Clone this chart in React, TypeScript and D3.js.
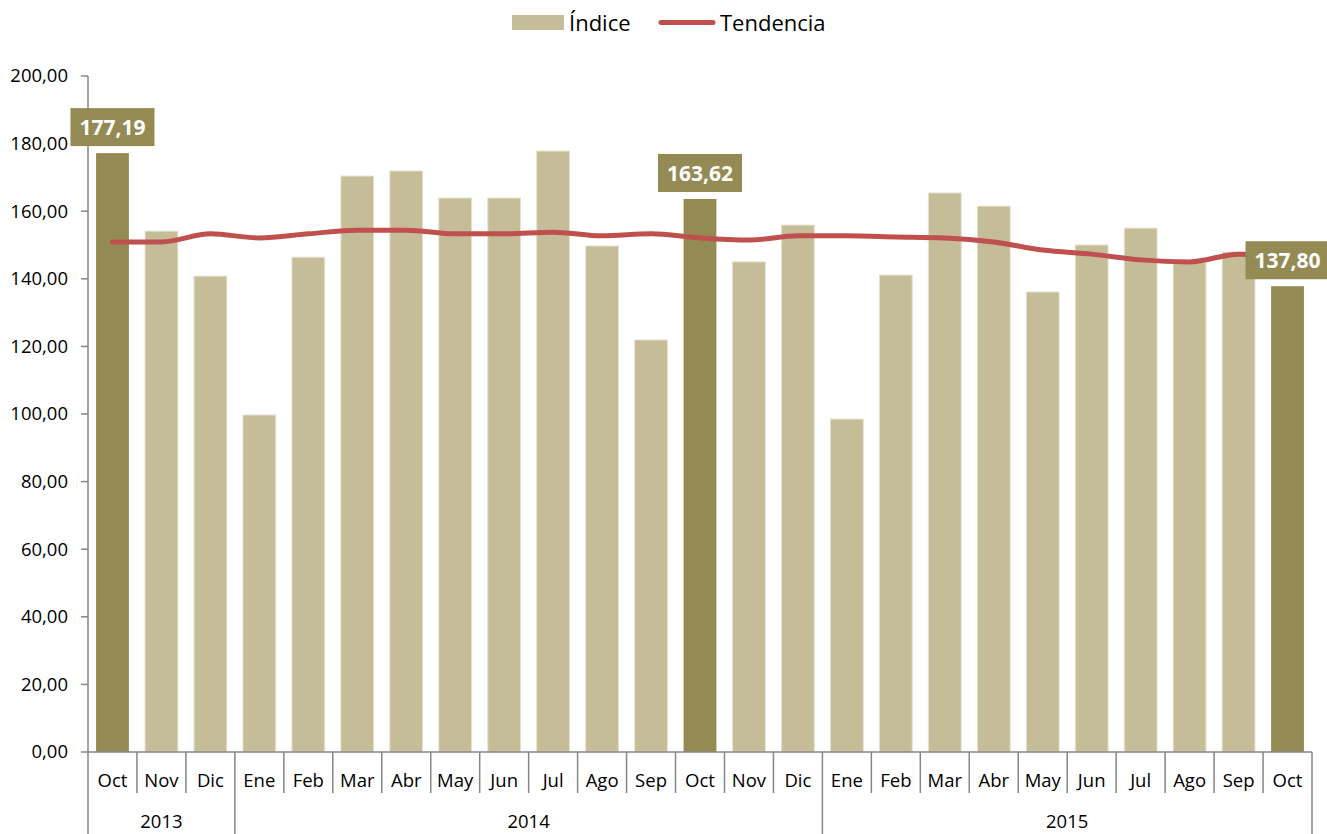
import React, { useRef, useEffect } from 'react';
import * as d3 from 'd3';

const months = ['Oct', 'Nov', 'Dic', 'Ene', 'Feb', 'Mar', 'Abr', 'May', 'Jun', 'Jul', 'Ago', 'Sep', 'Oct',
    'Nov', 'Dic', 'Ene', 'Feb', 'Mar', 'Abr', 'May', 'Jun', 'Jul', 'Ago', 'Sep', 'Oct'];

const indice = [177.19, 154.1, 140.8, 99.7, 146.4, 170.4, 171.9, 163.9, 163.9, 177.8, 149.7, 121.9, 163.62,
    145.0, 155.9, 98.5, 141.1, 165.4, 161.5, 136.1, 150.0, 155.0, 144.7, 147.9, 137.80];

const tendencia = [150.9, 150.9, 153.3, 152.1, 153.3, 154.4, 154.4, 153.3, 153.3, 153.8, 152.7, 153.3, 152.1,
    151.5, 152.7, 152.7, 152.4, 152.1, 150.9, 148.5, 147.3, 145.6, 145.0, 147.3, 147.0];

// year groups: label, first index, count
const years = [
    { label: '2013', start: 0, count: 3 },
    { label: '2014', start: 3, count: 12 },
    { label: '2015', start: 15, count: 10 },
];

const highlighted = [0, 12, 24];

const yTicks = [0, 20, 40, 60, 80, 100, 120, 140, 160, 180, 200];

const fmt = (v: number) => v.toFixed(2).replace('.', ',');

const App = () => {
    const svgRef = useRef<SVGSVGElement>(null);

    useEffect(() => {
        drawChart();
    }, []);

    const drawChart = () => {
        const svg = d3.select(svgRef.current);
        svg.selectAll('*').remove();

        const left = 88, right = 1312, top = 76, bottom = 752;
        const font = '"Open Sans", sans-serif';
        const axisColor = '#868686';

        const idx = months.map((_, i) => i);
        const x = d3.scaleBand<number>()
            .domain(idx)
            .range([left, right])
            .paddingInner(0.33)
            .paddingOuter(0.165);
        const step = (right - left) / months.length;

        const y = d3.scaleLinear().domain([0, 200]).range([bottom, top]);

        // bars
        svg.append('g')
            .selectAll('rect')
            .data(indice)
            .enter().append('rect')
            .attr('x', (d, i) => x(i)!)
            .attr('width', x.bandwidth())
            .attr('y', d => y(d))
            .attr('height', d => bottom - y(d))
            .attr('fill', (d, i) => highlighted.includes(i) ? '#948A54' : '#C4BD97')
            .attr('stroke', (d, i) => highlighted.includes(i) ? 'none' : '#E6E2D0')
            .attr('stroke-width', 1);

        // trend line
        const line = d3.line<number>()
            .x((d, i) => x(i)! + x.bandwidth() / 2)
            .y(d => y(d))
            .curve(d3.curveMonotoneX);

        svg.append('path')
            .datum(tendencia)
            .attr('d', line)
            .attr('fill', 'none')
            .attr('stroke', '#C0504D')
            .attr('stroke-width', 5)
            .attr('stroke-linecap', 'round');

        // y axis
        svg.append('line')
            .attr('x1', left).attr('x2', left)
            .attr('y1', top).attr('y2', bottom)
            .attr('stroke', axisColor).attr('stroke-width', 1.5);

        const yt = svg.append('g');
        yt.selectAll('line')
            .data(yTicks)
            .enter().append('line')
            .attr('x1', left - 7).attr('x2', left)
            .attr('y1', d => y(d)).attr('y2', d => y(d))
            .attr('stroke', axisColor).attr('stroke-width', 1.5);
        yt.selectAll('text')
            .data(yTicks)
            .enter().append('text')
            .attr('x', 68)
            .attr('y', d => y(d))
            .attr('dy', '0.35em')
            .attr('text-anchor', 'end')
            .style('font-family', font)
            .style('font-size', '18.5px')
            .attr('fill', '#000')
            .text(d => fmt(d));

        // x axis
        svg.append('line')
            .attr('x1', left).attr('x2', right)
            .attr('y1', bottom).attr('y2', bottom)
            .attr('stroke', axisColor).attr('stroke-width', 1.5);

        const yearEdges = years.map(g => g.start).concat([months.length]);
        const sep = d3.range(months.length + 1);
        svg.append('g')
            .selectAll('line')
            .data(sep)
            .enter().append('line')
            .attr('x1', i => left + i * step).attr('x2', i => left + i * step)
            .attr('y1', bottom)
            .attr('y2', i => yearEdges.includes(i) ? 834 : 793)
            .attr('stroke', axisColor).attr('stroke-width', 1.5);

        svg.append('g')
            .selectAll('text')
            .data(months)
            .enter().append('text')
            .attr('x', (d, i) => left + (i + 0.5) * step)
            .attr('y', 781)
            .attr('dy', '0.35em')
            .attr('text-anchor', 'middle')
            .style('font-family', font)
            .style('font-size', '18.5px')
            .text(d => d);

        svg.append('g')
            .selectAll('text')
            .data(years)
            .enter().append('text')
            .attr('x', d => left + (d.start + d.count / 2) * step)
            .attr('y', 822)
            .attr('dy', '0.35em')
            .attr('text-anchor', 'middle')
            .style('font-family', font)
            .style('font-size', '18.5px')
            .text(d => d.label);

        // data labels
        const lab = svg.append('g')
            .selectAll('g')
            .data(highlighted)
            .enter().append('g');
        lab.append('rect')
            .attr('x', i => x(i)! + x.bandwidth() / 2 - 42)
            .attr('y', i => y(indice[i]) - 45)
            .attr('width', 84)
            .attr('height', 38)
            .attr('fill', '#948A54');
        lab.append('text')
            .attr('x', i => x(i)! + x.bandwidth() / 2)
            .attr('y', i => y(indice[i]) - 26)
            .attr('dy', '0.36em')
            .attr('text-anchor', 'middle')
            .style('font-family', font)
            .style('font-size', '21px')
            .style('font-weight', 'bold')
            .attr('fill', '#fff')
            .text(i => fmt(indice[i]));

        // legend
        const lg = svg.append('g');
        lg.append('rect')
            .attr('x', 512).attr('y', 15).attr('width', 52).attr('height', 15)
            .attr('fill', '#C4BD97');
        lg.append('text')
            .attr('x', 569).attr('y', 23).attr('dy', '0.35em')
            .style('font-family', font).style('font-size', '22px')
            .text('Índice');
        lg.append('line')
            .attr('x1', 661).attr('x2', 713).attr('y1', 22.5).attr('y2', 22.5)
            .attr('stroke', '#C0504D').attr('stroke-width', 5).attr('stroke-linecap', 'round');
        lg.append('text')
            .attr('x', 720).attr('y', 23).attr('dy', '0.35em')
            .style('font-family', font).style('font-size', '22px')
            .text('Tendencia');
    };

    return (
        <svg ref={svgRef} width={1327} height={834}
            style={{ position: 'absolute', left: 0, top: 0, background: '#fff' }}></svg>
    );
};

export default App;
